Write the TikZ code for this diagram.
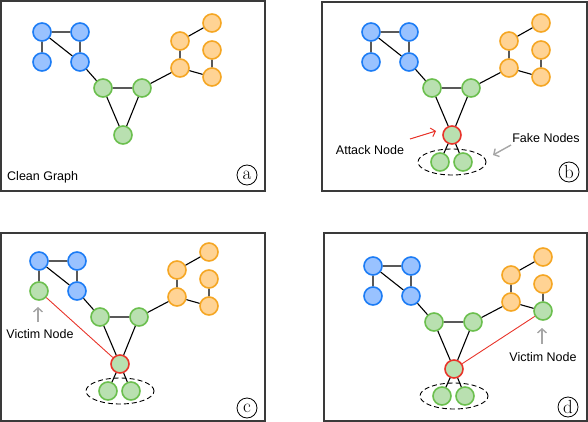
\documentclass[tikz,border=0pt]{standalone}
\usepackage{fontspec}
\setsansfont{Liberation Sans}
\usetikzlibrary{arrows.meta,shapes.geometric}
\definecolor{bluefill}{HTML}{99C2FF}
\definecolor{blueline}{HTML}{1C7CF5}
\definecolor{greenfill}{HTML}{B9E0B0}
\definecolor{greenline}{HTML}{6BBF4E}
\definecolor{orangefill}{HTML}{FFD394}
\definecolor{orangeline}{HTML}{F5A623}
\definecolor{redline}{HTML}{E8342A}
\definecolor{pointgray}{HTML}{A6A6A6}
\definecolor{frame}{HTML}{3A3A3A}

\begin{document}
\begin{tikzpicture}[x=1pt,y=-1pt,
   every node/.style={inner sep=0pt},
   vertex/.style={circle,minimum size=18pt,line width=1.6pt},
   bnode/.style={vertex,draw=blueline,fill=bluefill},
   gnode/.style={vertex,draw=greenline,fill=greenfill},
   onode/.style={vertex,draw=orangeline,fill=orangefill},
   anode/.style={vertex,draw=redline,fill=greenfill},
   fakeset/.style={ellipse,draw,dashed,dash pattern=on 5pt off 3pt,line width=0.9pt,
      minimum width=68pt,minimum height=26pt},
   link/.style={line width=1.1pt},
   hit/.style={redline,line width=0.9pt},
   pointer/.style={line width=1.4pt,-{Straight Barb[length=4pt,width=9pt]}},
   caption/.style={font=\sffamily\fontsize{12.5}{14}\selectfont},
   tag/.style={draw,circle,minimum size=20pt,line width=0.8pt,font=\fontsize{19}{19}\selectfont},
   panel/.style={draw=frame,line width=1.1pt}]
\useasboundingbox (0,0) rectangle (588,422);

% panel frames
\draw[panel] (1,1) rectangle (265,191);
\draw[panel] (322,2) rectangle (587,191);
\draw[panel] (1,233) rectangle (265,421);
\draw[panel] (324,233) rectangle (587,421);

% the graph, once per panel
\foreach \p/\dx/\dy/\bs/\gs/\os in {a/0/0/bnode/gnode/onode,
    b/329/0/bnode/anode/onode, c/-3/229/gnode/anode/onode,
    d/331/234/bnode/anode/gnode}{
  \begin{scope}[shift={(\dx,\dy)}]
    \node[bnode] (\p b1) at (42,32) {};
    \node[bnode] (\p b2) at (80,32) {};
    \node[\bs] (\p b3) at (42,62) {};
    \node[bnode] (\p b4) at (80,62) {};
    \node[gnode] (\p g1) at (103,88) {};
    \node[gnode] (\p g2) at (142,88) {};
    \node[\gs] (\p g3) at (123,135) {};
    \node[onode] (\p o1) at (212,23) {};
    \node[onode] (\p o2) at (180,41) {};
    \node[onode] (\p o3) at (212,50) {};
    \node[onode] (\p o4) at (180,68) {};
    \node[\os] (\p o5) at (212,77) {};
    \draw[link] (\p b1) -- (\p b2) (\p b1) -- (\p b3) (\p b1) -- (\p b4)
      (\p b2) -- (\p b4) (\p b4) -- (\p g1) (\p g1) -- (\p g2)
      (\p g1) -- (\p g3) (\p g2) -- (\p g3) (\p g2) -- (\p o4)
      (\p o2) -- (\p o1) (\p o2) -- (\p o4) (\p o4) -- (\p o5) (\p o3) -- (\p o5);
  \end{scope}}

% fake nodes under the attack node
\foreach \p in {b,c,d}{
  \path (\p g3) ++(-12,27) node[gnode] (\p f1) {};
  \path (\p g3) ++(11,27) node[gnode] (\p f2) {};
  \path (\p g3) ++(0,27) node[fakeset] (\p fs) {};
  \draw[link] (\p g3) -- (\p f1) (\p g3) -- (\p f2);
}

% injected edges
\draw[hit] (cg3) -- (cb3);
\draw[hit] (dg3) -- (do5);

% labels
\node[caption,anchor=west] (clean) at (7,177) {Clean Graph};
\node[caption] (attack) at (370,150) {Attack Node};
\node[caption] (fake) at (546,138) {Fake Nodes};
\node[caption] (victimc) at (40,334) {Victim Node};
\node[caption] (victimd) at (543,357) {Victim Node};

\coordinate (attacktail) at (410,139);
\coordinate (attacktip) at (436,131);
\coordinate (faketail) at (511,145);
\coordinate (faketip) at (493,155);
\coordinate (victimctail) at (38,322);
\coordinate (victimctip) at (38,307);
\coordinate (victimdtail) at (542,344);
\coordinate (victimdtip) at (542,328);
\draw[pointer,redline,line width=1pt] (attacktail) -- (attacktip);
\draw[pointer,pointgray] (faketail) -- (faketip);
\draw[pointer,pointgray] (victimctail) -- (victimctip);
\draw[pointer,pointgray] (victimdtail) -- (victimdtip);

% panel tags
\node[tag] (taga) at (247,175) {a};
\node[tag] (tagb) at (569,172) {b};
\node[tag] (tagc) at (247,408) {c};
\node[tag] (tagd) at (568,407) {d};
\end{tikzpicture}
\end{document}
